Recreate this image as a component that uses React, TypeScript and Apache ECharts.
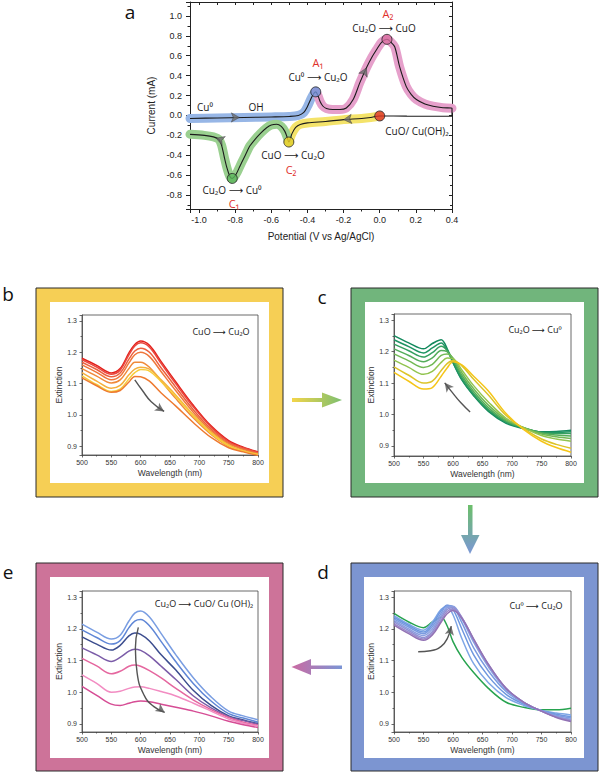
import React, { useEffect, useRef } from "react";
import * as echarts from "echarts";

// ---------- Panel a : cyclic voltammogram (Potential V vs Ag/AgCl, Current mA) ----------
const cvBlue: number[][] = [
  [-1.05, -0.03], [-0.9, -0.025], [-0.75, -0.02], [-0.6, -0.015], [-0.5, -0.01], [-0.45, 0.0],
  [-0.42, 0.03], [-0.4, 0.09], [-0.38, 0.17], [-0.365, 0.22], [-0.354, 0.237],
];
const cvPink: number[][] = [
  [-0.354, 0.237], [-0.342, 0.2], [-0.33, 0.14], [-0.315, 0.095], [-0.295, 0.07], [-0.26, 0.06],
  [-0.22, 0.06], [-0.185, 0.075], [-0.147, 0.16], [-0.11, 0.33], [-0.074, 0.477], [-0.045, 0.58],
  [-0.018, 0.66], [0.01, 0.735], [0.04, 0.765], [0.06, 0.74], [0.083, 0.69], [0.11, 0.49],
  [0.147, 0.29], [0.175, 0.21], [0.203, 0.16], [0.25, 0.115], [0.295, 0.093], [0.35, 0.078], [0.4, 0.072],
];
const cvBlack: number[][] = [[0.4, 0.072], [0.4, -0.008], [0.3, -0.008], [0.15, -0.007], [0.0, -0.005]];
const cvYellow: number[][] = [
  [0.0, -0.005], [-0.05, -0.02], [-0.1, -0.03], [-0.2, -0.042], [-0.3, -0.06], [-0.4, -0.075],
  [-0.44, -0.09], [-0.465, -0.12], [-0.485, -0.18], [-0.503, -0.267],
];
const cvGreen: number[][] = [
  [-0.503, -0.267], [-0.512, -0.22], [-0.525, -0.16], [-0.545, -0.11], [-0.57, -0.088], [-0.6, -0.095],
  [-0.626, -0.123], [-0.66, -0.18], [-0.69, -0.24], [-0.72, -0.31], [-0.737, -0.373], [-0.755, -0.44],
  [-0.773, -0.507], [-0.795, -0.59], [-0.816, -0.633], [-0.83, -0.61], [-0.845, -0.53], [-0.86, -0.42],
  [-0.875, -0.3], [-0.89, -0.24], [-0.92, -0.215], [-0.97, -0.2], [-1.05, -0.19],
];
const cvMarkers: number[][] = [[-0.354, 0.237], [0.04, 0.765], [0.0, -0.005], [-0.503, -0.267], [-0.816, -0.633]];
const cvFlowArrows: number[][] = [[-0.777, -0.02], [-0.074, 0.477], [-0.2, -0.042], [-0.905, -0.228]];

// ---------- Panels b-e : extinction spectra ----------
const wavelengths = [500, 525, 550, 565, 580, 590, 600, 615, 635, 660, 690, 720, 750, 775, 800];
const specB: number[][] = [
  [1.181, 1.158, 1.134, 1.148, 1.198, 1.225, 1.236, 1.222, 1.170, 1.105, 1.030, 0.965, 0.918, 0.897, 0.882],
  [1.176, 1.153, 1.130, 1.143, 1.192, 1.220, 1.230, 1.216, 1.164, 1.099, 1.025, 0.961, 0.915, 0.895, 0.880],
  [1.168, 1.145, 1.122, 1.134, 1.178, 1.204, 1.213, 1.200, 1.150, 1.088, 1.016, 0.955, 0.911, 0.892, 0.878],
  [1.160, 1.136, 1.112, 1.124, 1.166, 1.192, 1.200, 1.186, 1.138, 1.077, 1.008, 0.950, 0.908, 0.890, 0.876],
  [1.148, 1.124, 1.102, 1.112, 1.148, 1.168, 1.168, 1.152, 1.108, 1.052, 0.990, 0.938, 0.900, 0.885, 0.874],
  [1.135, 1.108, 1.085, 1.094, 1.128, 1.146, 1.152, 1.146, 1.112, 1.063, 1.000, 0.945, 0.904, 0.886, 0.875],
  [1.125, 1.097, 1.075, 1.082, 1.115, 1.135, 1.145, 1.140, 1.106, 1.058, 0.996, 0.941, 0.901, 0.884, 0.873],
  [1.118, 1.093, 1.072, 1.078, 1.105, 1.123, 1.122, 1.108, 1.070, 1.028, 0.975, 0.928, 0.895, 0.882, 0.870],
];
const specC: number[][] = [
  [1.251, 1.228, 1.209, 1.226, 1.238, 1.210, 1.165, 1.110, 1.060, 1.010, 0.972, 0.955, 0.945, 0.946, 0.950],
  [1.238, 1.216, 1.196, 1.212, 1.228, 1.205, 1.166, 1.112, 1.062, 1.013, 0.975, 0.956, 0.944, 0.943, 0.945],
  [1.224, 1.203, 1.183, 1.197, 1.217, 1.204, 1.172, 1.118, 1.066, 1.016, 0.977, 0.957, 0.943, 0.940, 0.940],
  [1.209, 1.188, 1.168, 1.180, 1.204, 1.200, 1.177, 1.125, 1.073, 1.022, 0.980, 0.958, 0.941, 0.935, 0.932],
  [1.193, 1.171, 1.150, 1.160, 1.188, 1.193, 1.180, 1.133, 1.082, 1.030, 0.984, 0.958, 0.938, 0.929, 0.924],
  [1.173, 1.150, 1.128, 1.137, 1.166, 1.180, 1.178, 1.142, 1.092, 1.040, 0.988, 0.958, 0.933, 0.922, 0.915],
  [1.152, 1.125, 1.100, 1.106, 1.140, 1.162, 1.172, 1.155, 1.112, 1.062, 0.997, 0.955, 0.922, 0.905, 0.893],
  [1.134, 1.106, 1.081, 1.086, 1.122, 1.148, 1.168, 1.158, 1.122, 1.075, 1.003, 0.952, 0.915, 0.895, 0.880],
];
const specD: number[][] = [
  [1.249, 1.222, 1.204, 1.222, 1.237, 1.210, 1.160, 1.110, 1.062, 1.012, 0.968, 0.952, 0.944, 0.944, 0.949],
  [1.242, 1.215, 1.196, 1.222, 1.262, 1.270, 1.245, 1.170, 1.090, 1.030, 0.983, 0.958, 0.942, 0.934, 0.928],
  [1.237, 1.211, 1.190, 1.215, 1.258, 1.275, 1.262, 1.200, 1.118, 1.050, 0.993, 0.962, 0.942, 0.930, 0.922],
  [1.232, 1.206, 1.185, 1.208, 1.250, 1.274, 1.270, 1.220, 1.140, 1.067, 1.002, 0.965, 0.941, 0.927, 0.918],
  [1.227, 1.200, 1.179, 1.200, 1.243, 1.268, 1.272, 1.232, 1.158, 1.080, 1.008, 0.967, 0.940, 0.924, 0.914],
  [1.222, 1.195, 1.173, 1.192, 1.236, 1.262, 1.268, 1.236, 1.165, 1.086, 1.011, 0.968, 0.940, 0.922, 0.911],
  [1.217, 1.190, 1.168, 1.186, 1.228, 1.255, 1.263, 1.236, 1.168, 1.088, 1.012, 0.968, 0.940, 0.921, 0.909],
  [1.212, 1.185, 1.164, 1.181, 1.222, 1.248, 1.258, 1.234, 1.168, 1.088, 1.012, 0.968, 0.940, 0.920, 0.907],
];
const specE: number[][] = [
  [1.215, 1.190, 1.168, 1.180, 1.225, 1.250, 1.257, 1.238, 1.185, 1.118, 1.045, 0.985, 0.940, 0.925, 0.913],
  [1.197, 1.173, 1.152, 1.163, 1.204, 1.225, 1.230, 1.210, 1.160, 1.096, 1.027, 0.972, 0.932, 0.918, 0.905],
  [1.175, 1.152, 1.133, 1.148, 1.178, 1.187, 1.183, 1.162, 1.118, 1.070, 1.005, 0.958, 0.925, 0.912, 0.900],
  [1.140, 1.118, 1.097, 1.110, 1.130, 1.136, 1.132, 1.115, 1.082, 1.040, 0.988, 0.950, 0.922, 0.910, 0.898],
  [1.107, 1.083, 1.058, 1.066, 1.082, 1.086, 1.082, 1.068, 1.045, 1.012, 0.975, 0.945, 0.920, 0.905, 0.895],
  [1.055, 1.028, 1.000, 1.003, 1.012, 1.016, 1.017, 1.012, 1.002, 0.988, 0.965, 0.940, 0.915, 0.902, 0.893],
  [1.018, 0.990, 0.962, 0.958, 0.965, 0.970, 0.972, 0.970, 0.962, 0.952, 0.940, 0.925, 0.908, 0.897, 0.888],
];
// trend arrows inside the spectra panels, as paths in (nm, extinction)
const trendB: number[][] = [[590, 1.112], [603, 1.078], [618, 1.042], [640, 1.011]];
const trendC: number[][] = [[629, 1.008], [613, 1.038], [598, 1.072], [586, 1.101]];
const trendD: number[][] = [[541, 1.128], [562, 1.131], [580, 1.145], [591, 1.172], [597, 1.209]];
const trendE: number[][] = [[596, 1.205], [591, 1.14], [594, 1.06], [606, 0.99], [622, 0.955], [641, 0.936]];

// ---------- styles ----------
const colorsB = ["#e3211c", "#e9473e", "#ec5f3e", "#ef773c", "#f08a3a", "#f4b03e", "#f7cd3a", "#ee7a30"];
const colorsC = ["#148a5e", "#1f9463", "#35a060", "#54ad5a", "#72b955", "#92c450", "#dcc42a", "#f5c518"];
const colorsD = ["#27a34f", "#7ea6e6", "#6e97df", "#7a9be0", "#8a9fe0", "#8f93d6", "#9a8bcc", "#9272b4"];
const colorsE = ["#7a9ee2", "#5f86d6", "#3c4d8e", "#7b5ca8", "#e5679f", "#f28cc2", "#d64d95"];
const markerColors = ["#6f93d8", "#d96ea0", "#e03328", "#f5d224", "#5bb55b"];
const flowArrowRotations = [-90, -25, 95, 70];
const trendHeadRotations = [-123, 38, -12, -125];

const AX = "#222";
const FONT = "'Liberation Sans', Arial, sans-serif";
const TFONT = "'Open Sans', 'DejaVu Sans', sans-serif";

function fmtStep(step: number) {
  return (v: number) => {
    const k = v / step;
    if (Math.abs(k - Math.round(k)) > 1e-6) return "";
    if (Math.abs(v) < 1e-9) return "0.0";
    return v.toFixed(1);
  };
}

export default function App() {
  const ref = useRef<HTMLDivElement>(null);
  useEffect(() => {
    document.body.style.margin = "0";
    const chart = echarts.init(ref.current!, undefined, { renderer: "svg" });

    // grid order: a, b, c, d, e
    const grids = [
      { left: 190, top: 2, width: 262, height: 207 },
      { left: 82, top: 315, width: 176, height: 140 },
      { left: 394, top: 314, width: 177, height: 142 },
      { left: 394, top: 591, width: 177, height: 141 },
      { left: 82, top: 591, width: 176, height: 141 },
    ];
    const yRanges = [[0, 0], [0.872, 1.319], [0.868, 1.32], [0.874, 1.32], [0.874, 1.32]];

    const xAxes: any[] = [
      {
        gridIndex: 0, type: "value", min: -1.05, max: 0.4, minInterval: 0.2, maxInterval: 0.2, splitNumber: 7,
        position: "bottom",
        axisLine: { onZero: false, lineStyle: { color: AX, width: 1 } },
        axisTick: { length: 4, lineStyle: { color: AX } },
        minorTick: { show: true, splitNumber: 2, length: 2.5, lineStyle: { color: AX } },
        splitLine: { show: false },
        axisLabel: { fontSize: 9, color: AX, margin: 6, fontFamily: FONT, formatter: fmtStep(0.2), showMinLabel: false },
        name: "Potential (V vs Ag/AgCl)", nameLocation: "middle", nameGap: 22,
        nameTextStyle: { fontSize: 10, color: AX, fontFamily: FONT },
      },
      {
        gridIndex: 0, type: "value", min: -1.05, max: 0.4, minInterval: 0.2, maxInterval: 0.2, splitNumber: 7,
        position: "top",
        axisLine: { onZero: false, lineStyle: { color: AX, width: 1 } },
        axisTick: { inside: true, length: 3, lineStyle: { color: AX } },
        minorTick: { show: true, splitNumber: 2, length: 3, lineStyle: { color: AX } },
        splitLine: { show: false }, axisLabel: { show: false },
      },
    ];
    const yAxes: any[] = [
      {
        gridIndex: 0, type: "value", min: -0.94, max: 1.14, minInterval: 0.2, maxInterval: 0.2, splitNumber: 10,
        position: "left",
        axisLine: { onZero: false, lineStyle: { color: AX, width: 1 } },
        axisTick: { length: 4, lineStyle: { color: AX } },
        minorTick: { show: true, splitNumber: 2, length: 2.5, lineStyle: { color: AX } },
        splitLine: { show: false },
        axisLabel: { fontSize: 9, color: AX, margin: 8, fontFamily: FONT, formatter: fmtStep(0.2), showMinLabel: false, showMaxLabel: false },
        name: "Current (mA)", nameLocation: "middle", nameGap: 34,
        nameTextStyle: { fontSize: 10, color: AX, fontFamily: FONT },
      },
      {
        gridIndex: 0, type: "value", min: -0.94, max: 1.14, minInterval: 0.2, maxInterval: 0.2, splitNumber: 10,
        position: "right",
        axisLine: { onZero: false, lineStyle: { color: AX, width: 1 } },
        axisTick: { inside: true, length: 3, lineStyle: { color: AX } },
        minorTick: { show: true, splitNumber: 2, length: 2, lineStyle: { color: AX } },
        splitLine: { show: false }, axisLabel: { show: false },
      },
    ];
    for (let g = 1; g <= 4; g++) {
      xAxes.push({
        gridIndex: g, type: "value", min: 500, max: 800, interval: 50,
        axisLine: { onZero: false, lineStyle: { color: "#444", width: 0.8 } },
        axisTick: { length: 2.5, lineStyle: { color: "#444", width: 0.8 } },
        minorTick: { show: true, splitNumber: 2, length: 1.5, lineStyle: { color: "#444", width: 0.8 } },
        splitLine: { show: false },
        axisLabel: { fontSize: 7, color: "#333", margin: 4, fontFamily: FONT },
        name: "Wavelength (nm)", nameLocation: "middle", nameGap: 13,
        nameTextStyle: { fontSize: 8.5, color: "#333", fontFamily: FONT },
      });
      yAxes.push({
        gridIndex: g, type: "value", min: yRanges[g][0], max: yRanges[g][1],
        minInterval: 0.1, maxInterval: 0.1, splitNumber: 5,
        axisLine: { onZero: false, lineStyle: { color: "#444", width: 0.8 } },
        axisTick: { length: 2.5, lineStyle: { color: "#444", width: 0.8 } },
        minorTick: { show: true, splitNumber: 2, length: 1.5, lineStyle: { color: "#444", width: 0.8 } },
        splitLine: { show: false },
        axisLabel: { fontSize: 7, color: "#333", margin: 5, fontFamily: FONT, formatter: fmtStep(0.1), showMinLabel: false, showMaxLabel: false },
        name: "Extinction", nameLocation: "middle", nameGap: 19,
        nameTextStyle: { fontSize: 8.5, color: "#333", fontFamily: FONT },
      });
    }

    const series: any[] = [];
    const band = (data: number[][], color: string) => ({
      type: "line", xAxisIndex: 0, yAxisIndex: 0, data, smooth: 0.3, symbol: "none", silent: true,
      lineStyle: { color, width: 9, cap: "round", join: "round" }, z: 2,
    });
    series.push(band(cvBlue, "#97b6e6"));
    series.push(band(cvPink, "#e6a0cb"));
    series.push(band(cvYellow, "#f4e36a"));
    series.push(band(cvGreen, "#9ad090"));
    const fullCv = [
      ...cvBlue, ...cvPink.slice(1), ...cvBlack.slice(1), ...cvYellow.slice(1), ...cvGreen.slice(1),
    ];
    series.push({
      type: "line", xAxisIndex: 0, yAxisIndex: 0, data: fullCv, smooth: 0.3, symbol: "none", silent: true,
      lineStyle: { color: "#1b1b1b", width: 1.1 }, z: 3,
    });
    series.push({
      type: "scatter", xAxisIndex: 0, yAxisIndex: 0, symbol: "arrow", symbolSize: [7, 8], silent: true, z: 4,
      data: cvFlowArrows.map((p, i) => ({ value: p, symbolRotate: flowArrowRotations[i] })),
      itemStyle: { color: "#6d6d6d", borderColor: "#333", borderWidth: 0.5 },
    });
    series.push({
      type: "scatter", xAxisIndex: 0, yAxisIndex: 0, symbol: "circle", symbolSize: 10, silent: true, z: 5,
      data: cvMarkers.map((p, i) => ({ value: p, itemStyle: { color: markerColors[i] } })),
      itemStyle: { borderColor: "#222", borderWidth: 1 },
    });

    // spectra: grid a owns axes 0 and 1, so panel k uses axis index k + 2
    const specSets = [specB, specC, specD, specE];
    const specColors = [colorsB, colorsC, colorsD, colorsE];
    const trends = [trendB, trendC, trendD, trendE];
    specSets.forEach((set, k) => {
      const ax = k + 2;
      set.forEach((vals, j) => {
        series.push({
          type: "line", xAxisIndex: ax, yAxisIndex: ax, smooth: 0.35, symbol: "none", silent: true,
          data: wavelengths.map((w, i) => [w, vals[i]]),
          lineStyle: { color: specColors[k][j], width: 1.5 },
        });
      });
      const path = trends[k];
      series.push({
        type: "line", xAxisIndex: ax, yAxisIndex: ax, data: path.slice(0, path.length - 1).concat([path[path.length - 1]]),
        smooth: 0.5, symbol: "none", silent: true, z: 6,
        lineStyle: { color: "#555", width: 1.4 },
      });
      series.push({
        type: "scatter", xAxisIndex: ax, yAxisIndex: ax, symbol: "arrow", symbolSize: [7, 9], silent: true, z: 7,
        data: [{ value: path[path.length - 1], symbolRotate: trendHeadRotations[k] }],
        itemStyle: { color: "#555" },
      });
    });

    const txt = (text: string, x: number, y: number, size: number, fill = "#1a1a1a", font = TFONT) => ({
      type: "text", x, y, z: 10, silent: true,
      style: { text, fill, font: `${size}px ${font}`, align: "center", verticalAlign: "middle" },
    });
    const RED = "#e0302a";
    const frame = (x: number, y: number, w: number, h: number, color: string, ix: number, iy: number, iw: number, ih: number) => [
      { type: "rect", z: -3, silent: true, shape: { x, y, width: w, height: h }, style: { fill: color, stroke: "#2a2a2a", lineWidth: 1 } },
      { type: "rect", z: -2, silent: true, shape: { x: ix, y: iy, width: iw, height: ih }, style: { fill: "#ffffff" } },
    ];
    const grad = (x2: number, y2: number, c1: string, c2: string) =>
      new echarts.graphic.LinearGradient(0, 0, x2, y2, [{ offset: 0, color: c1 }, { offset: 1, color: c2 }]);

    const graphic: any[] = [
      ...frame(36, 288, 247, 209, "#f6cf55", 50, 302, 219, 181),
      ...frame(351, 288, 247, 209, "#71b57c", 365, 302, 219, 181),
      ...frame(36, 563, 247, 208, "#cd7399", 50, 577, 219, 181),
      ...frame(351, 563, 247, 208, "#7c95d1", 364, 577, 220, 181),
      {
        type: "polygon", z: 1, silent: true,
        shape: { points: [[292, 398], [322, 398], [322, 392.5], [342, 400], [322, 407.5], [322, 402], [292, 402]] },
        style: { fill: grad(1, 0, "#f3d54a", "#7dbf70") },
      },
      {
        type: "polygon", z: 1, silent: true,
        shape: { points: [[468, 505], [472.5, 505], [472.5, 535], [479.5, 535], [470, 554], [461, 535], [468, 535]] },
        style: { fill: grad(0, 1, "#6cbf6a", "#7b97d6") },
      },
      {
        type: "polygon", z: 1, silent: true,
        shape: { points: [[342, 665.5], [311, 665.5], [311, 659], [291.5, 667], [311, 675], [311, 669], [342, 669]] },
        style: { fill: grad(1, 0, "#cb6aa2", "#7b95d5") },
      },
      txt("a", 130, 12, 19, "#111"),
      txt("b", 8, 294, 19, "#111"),
      txt("c", 322, 297, 19, "#111"),
      txt("e", 8, 572, 19, "#111"),
      txt("d", 323, 572, 19, "#111"),
      txt("Cu\u2070", 205, 107, 10),
      txt("OH", 256, 107, 10),
      txt("A\u2081", 318, 62, 11, RED),
      txt("Cu\u2070 \u27F6 Cu\u2082O", 318, 77, 10),
      txt("A\u2082", 388, 13, 11, RED),
      txt("Cu\u2082O \u27F6 CuO", 384, 28, 10),
      txt("CuO/ Cu(OH)\u2082", 417, 131, 10),
      txt("CuO \u27F6 Cu\u2082O", 293, 155, 10),
      txt("C\u2082", 291, 169, 11, RED),
      txt("Cu\u2082O \u27F6 Cu\u2070", 232, 190, 10),
      txt("C\u2081", 234, 203, 11, RED),
      txt("CuO \u27F6 Cu\u2082O", 221, 331, 9),
      txt("Cu\u2082O \u27F6 Cu\u2070", 535, 329, 9),
      txt("Cu\u2070 \u27F6 Cu\u2082O", 536, 605, 9),
      txt("Cu\u2082O \u27F6 CuO/ Cu (OH)\u2082", 204, 603, 9),
    ];

    chart.setOption({
      animation: false,
      backgroundColor: "#ffffff",
      grid: grids.map((g, i) => ({ ...g, show: i > 0, borderColor: "#444", borderWidth: 0.8, backgroundColor: "transparent", z: 1 })),
      xAxis: xAxes,
      yAxis: yAxes,
      series,
      graphic,
    });
    return () => chart.dispose();
  }, []);
  return <div ref={ref} style={{ position: "absolute", left: 0, top: 0, width: 600, height: 774 }} />;
}
